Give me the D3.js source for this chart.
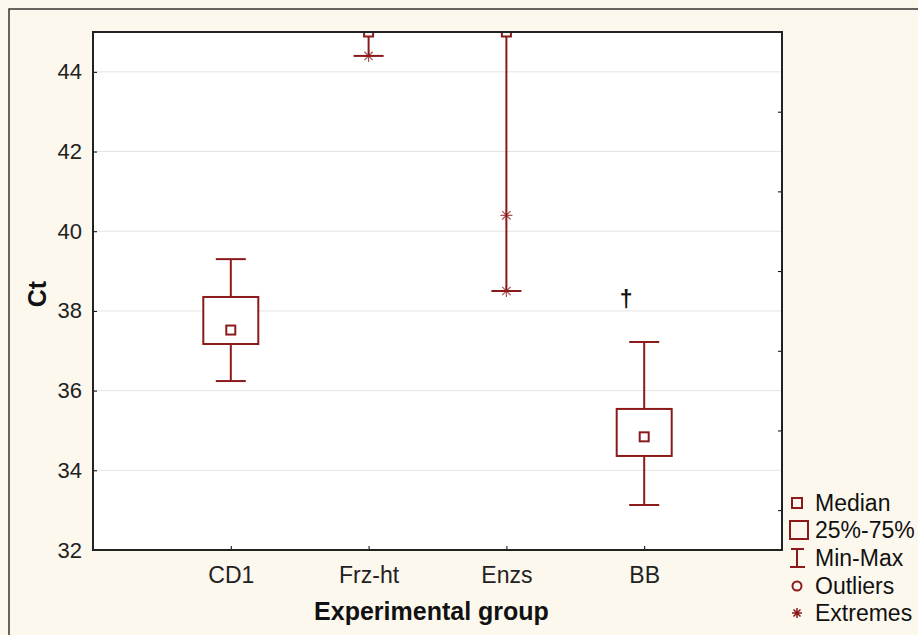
<!DOCTYPE html>
<html>
<head>
<meta charset="utf-8">
<script src="https://cdn.jsdelivr.net/npm/d3@7"></script>
<style>
  body { margin: 0; background: #fdf8ee; }
  svg { display: block; font-family: "Liberation Sans", Arial, sans-serif; }
</style>
</head>
<body>
<div class="chart"></div>
<script>
// values
const groups = ["CD1", "Frz-ht", "Enzs", "BB"];
const mins    = [36.24, 44.4, 38.5, 33.13];
const q1s     = [37.17, 45.0, 45.0, 34.36];
const medians = [37.52, 45.0, 45.0, 34.84];
const q3s     = [38.35, 45.0, 45.0, 35.54];
const maxs    = [39.3, 45.0, 45.0, 37.22];
const extremes = [[], [44.4], [40.4, 38.5], []];
const yTicks = [32, 34, 36, 38, 40, 42, 44];
const yMinorTicks = [33, 35, 37, 39, 41, 43];
const legendLabels = ["Median", "25%-75%", "Min-Max", "Outliers", "Extremes"];

const red = "#8b1a1a";
const W = 918, H = 635;
const margin = {top: 32, right: 136, bottom: 85, left: 93};
const width = W - margin.left - margin.right;
const height = H - margin.top - margin.bottom;

const root = d3.select(".chart").append("svg")
    .attr("width", W)
    .attr("height", H);

// outer frame
root.append("rect")
    .attr("x", 9).attr("y", 9)
    .attr("width", W).attr("height", H)
    .attr("fill", "#fdf8ee")
    .attr("stroke", "#333").attr("stroke-width", 1.5);

const svg = root.append("g")
    .attr("transform", `translate(${margin.left},${margin.top})`);

const xScale = d3.scalePoint()
    .domain(groups)
    .range([0, width])
    .padding(1);

const yScale = d3.scaleLinear()
    .domain([32, 45])
    .range([height, 0]);

svg.append("rect")
    .attr("width", width).attr("height", height)
    .attr("fill", "white");

// grid
svg.selectAll(".grid")
    .data(yTicks.filter(d => d > 32))
    .enter().append("line")
    .attr("class", "grid")
    .attr("x1", 0).attr("x2", width)
    .attr("y1", d => yScale(d)).attr("y2", d => yScale(d))
    .attr("stroke", "#e4e4e4").attr("stroke-width", 1);

svg.append("clipPath").attr("id", "clip")
    .append("rect").attr("width", width).attr("height", height);

const plot = svg.append("g").attr("clip-path", "url(#clip)");

const data = groups.map((g, i) => ({
    g, min: mins[i], q1: q1s[i], med: medians[i], q3: q3s[i], max: maxs[i], ext: extremes[i]
}));

const boxW = 55, capW = 30, medS = 9;

const box = plot.selectAll(".box")
    .data(data)
    .enter().append("g")
    .attr("class", "box")
    .attr("transform", d => `translate(${xScale(d.g)},0)`)
    .attr("stroke", red)
    .attr("fill", "none")
    .attr("stroke-width", 2);

// whiskers
box.append("line")
    .attr("y1", d => yScale(d.q3)).attr("y2", d => yScale(d.max));
box.append("line")
    .attr("y1", d => yScale(d.q1)).attr("y2", d => yScale(d.min));
box.append("line")
    .attr("x1", -capW / 2).attr("x2", capW / 2)
    .attr("y1", d => yScale(d.max)).attr("y2", d => yScale(d.max));
box.append("line")
    .attr("x1", -capW / 2).attr("x2", capW / 2)
    .attr("y1", d => yScale(d.min)).attr("y2", d => yScale(d.min));

// 25-75 box
box.append("rect")
    .attr("x", -boxW / 2)
    .attr("y", d => yScale(d.q3))
    .attr("width", boxW)
    .attr("height", d => yScale(d.q1) - yScale(d.q3))
    .attr("fill", "white");

// median
box.append("rect")
    .attr("x", -medS / 2)
    .attr("y", d => yScale(d.med) - medS / 2)
    .attr("width", medS).attr("height", medS)
    .attr("fill", "white");

// extremes
function star(sel, s) {
    sel.append("path")
        .attr("d", `M${-s},0H${s}M0,${-s}V${s}M${-s * 0.7},${-s * 0.7}L${s * 0.7},${s * 0.7}M${-s * 0.7},${s * 0.7}L${s * 0.7},${-s * 0.7}`);
}
box.each(function(d) {
    const g = d3.select(this);
    d.ext.forEach(v => {
        const e = g.append("g")
            .attr("transform", `translate(0,${yScale(v)})`)
            .attr("stroke-width", 1.2)
            .attr("stroke-opacity", 0.75);
        star(e, 6);
    });
});

// dagger over BB
svg.append("text")
    .attr("x", xScale("BB") - 18)
    .attr("y", yScale(38.3))
    .attr("dy", "0.35em")
    .attr("text-anchor", "middle")
    .attr("font-size", "23px")
    .attr("font-weight", "bold")
    .attr("fill", "#111")
    .text("\u2020");

// axes
const yAxis = d3.axisLeft(yScale).tickValues(yTicks).tickSizeInner(-4).tickSizeOuter(0).tickPadding(11);
svg.append("g").attr("class", "y-axis").call(yAxis)
    .call(g => g.selectAll("text").attr("font-size", "22px").attr("fill", "#222"));

const yRight = d3.axisRight(yScale).tickValues(yMinorTicks).tickSizeInner(-4).tickSizeOuter(0).tickFormat("");
svg.append("g").attr("transform", `translate(${width},0)`).call(yRight);

const xAxis = d3.axisBottom(xScale).tickSizeInner(-4).tickSizeOuter(0).tickPadding(17);
svg.append("g").attr("class", "x-axis")
    .attr("transform", `translate(0,${height})`)
    .call(xAxis)
    .call(g => g.selectAll("text").attr("font-size", "23px").attr("fill", "#222"));

svg.selectAll(".domain").remove();
svg.append("rect")
    .attr("width", width).attr("height", height)
    .attr("fill", "none")
    .attr("stroke", "#222").attr("stroke-width", 2);

// axis titles
svg.append("text")
    .attr("x", width / 2 - 6)
    .attr("y", height + 70)
    .attr("text-anchor", "middle")
    .attr("font-size", "25px")
    .attr("font-weight", "bold")
    .attr("fill", "#111")
    .text("Experimental group");

svg.append("text")
    .attr("transform", `translate(${-47},${height / 2 + 3}) rotate(-90)`)
    .attr("text-anchor", "middle")
    .attr("font-size", "25px")
    .attr("font-weight", "bold")
    .attr("fill", "#111")
    .text("Ct");

// legend
const legend = root.append("g").attr("transform", "translate(797,0)");
const rowY = [503, 530, 558, 586, 613];
const item = legend.selectAll(".item")
    .data(legendLabels)
    .enter().append("g")
    .attr("class", "item")
    .attr("transform", (d, i) => `translate(0,${rowY[i]})`);

item.append("text")
    .attr("x", 18)
    .attr("dy", "0.35em")
    .attr("font-size", "23px")
    .attr("fill", "#111")
    .text(d => d);

const sym = item.append("g").attr("stroke", red).attr("fill", "none").attr("stroke-width", 2);
sym.each(function(d, i) {
    const g = d3.select(this);
    if (i === 0) g.append("rect").attr("x", -5).attr("y", -5).attr("width", 10).attr("height", 10);
    if (i === 1) g.append("rect").attr("x", -7).attr("y", -9).attr("width", 18).attr("height", 18);
    if (i === 2) g.append("path").attr("d", "M-6,-9H7M0,-9V9M-7,9H8");
    if (i === 3) g.append("circle").attr("r", 4.5);
    if (i === 4) star(g.attr("stroke-width", 1.5), 5);
});
</script>
</body>
</html>
